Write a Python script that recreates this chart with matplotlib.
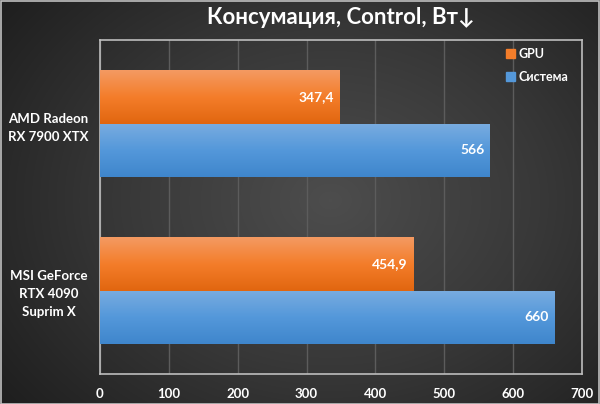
import numpy as np
import matplotlib
matplotlib.use("Agg")
import matplotlib.pyplot as plt
from matplotlib.colors import LinearSegmentedColormap

categories = ["MSI GeForce\nRTX 4090\nSuprim X", "AMD Radeon\nRX 7900 XTX"]
series_names = ["GPU", "Система"]
gpu_values = [454.9, 347.4]
system_values = [660, 566]
value_labels_gpu = ["454,9", "347,4"]
value_labels_sys = ["660", "566"]
xticks = [0, 100, 200, 300, 400, 500, 600, 700]
title = "Консумация, Control, Вт↓"

plt.rcParams['font.family'] = ['Lato', 'DejaVu Sans']
plt.rcParams['font.weight'] = 'bold'

fig = plt.figure(figsize=(6.0, 4.04), dpi=100)

# background radial gradient
bg = fig.add_axes([0, 0, 1, 1])
bg.set_axis_off()
yy, xx = np.mgrid[0:404, 0:600]
cx, cy = 330, 200
r = np.sqrt(((xx - cx) / 420.0) ** 2 + ((yy - cy) / 330.0) ** 2)
r = np.clip(r, 0, 1)
bgcmap = LinearSegmentedColormap.from_list("bg", ["#4d4d4d", "#383838", "#1e1e1e"])
bg.imshow(r, cmap=bgcmap, vmin=0, vmax=1, aspect='auto', extent=[0, 1, 0, 1])
bg.set_xlim(0, 1)
bg.set_ylim(0, 1)
bg.add_patch(plt.Rectangle((0.001, 0.001), 0.998, 0.996, fill=False,
                           edgecolor="#bfbfbf", lw=1.2))

L, R, T, B = 100, 582, 40, 374
ax = fig.add_axes([L / 600, 1 - B / 404, (R - L) / 600, (B - T) / 404])
ax.patch.set_alpha(0)

y = np.arange(len(categories))
h = 0.32
orange_cmap = LinearSegmentedColormap.from_list("o", ["#e1660f", "#f47d2a", "#f39a62"])
blue_cmap = LinearSegmentedColormap.from_list("b", ["#3f86cc", "#5498da", "#79ace0"])

def grad_bars(bars, cmap):
    for b in bars:
        x0, y0 = b.get_x(), b.get_y()
        w, hh = b.get_width(), b.get_height()
        grad = np.linspace(0, 1, 100).reshape(-1, 1)
        im = ax.imshow(grad, cmap=cmap, aspect='auto', origin='lower',
                       extent=[x0, x0 + w, y0, y0 + hh], zorder=3)
        im.set_clip_path(b)
        b.set_facecolor("none")

bars_gpu = ax.barh(y + h / 2, gpu_values, height=h, color="#f47d2a",
                   edgecolor="none", zorder=3, label=series_names[0])
bars_sys = ax.barh(y - h / 2, system_values, height=h, color="#5498da",
                   edgecolor="none", zorder=3, label=series_names[1])
grad_bars(bars_gpu, orange_cmap)
grad_bars(bars_sys, blue_cmap)

for b, lab in zip(bars_gpu, value_labels_gpu):
    ax.text(b.get_width() - 8, b.get_y() + b.get_height() / 2, lab, ha='right',
            va='center', color='white', fontsize=10, fontweight='bold', zorder=5)
for b, lab in zip(bars_sys, value_labels_sys):
    ax.text(b.get_width() - 8, b.get_y() + b.get_height() / 2, lab, ha='right',
            va='center', color='white', fontsize=10, fontweight='bold', zorder=5)

ax.set_xlim(0, 700)
ax.set_ylim(-0.5, len(categories) - 0.5)
ax.set_xticks(xticks)
ax.set_xticklabels([str(t) for t in xticks])
ax.set_yticks(y)
ax.set_yticklabels(categories, ha='center', linespacing=1.6)
ax.tick_params(axis='y', pad=37, length=0, colors='white', labelsize=9.5)
ax.tick_params(axis='x', pad=10, length=0, colors='white', labelsize=9.5)
for t in ax.get_xticklabels() + ax.get_yticklabels():
    t.set_fontweight('bold')

ax.grid(axis='x', color="#5c5c5c", lw=1, zorder=0)
ax.set_axisbelow(True)
for s in ax.spines.values():
    s.set_color("#bdbdbd")
    s.set_linewidth(1.2)

handles = [plt.Rectangle((0, 0), 1, 1, color="#f47d2a"),
           plt.Rectangle((0, 0), 1, 1, color="#5498da")]
leg = ax.legend(handles, series_names, loc='upper right', frameon=False,
                bbox_to_anchor=(0.995, 1.01), handlelength=0.7, handleheight=0.7,
                handletextpad=0.3, labelspacing=0.9,
                labelcolor='white', prop={'weight': 'bold', 'size': 9})

fig.text((L + R) / 2 / 600, 1 - 18 / 404, title, ha='center', va='center',
         color='white', fontsize=16, fontweight='bold')

fig.savefig("out.png", dpi=100)
